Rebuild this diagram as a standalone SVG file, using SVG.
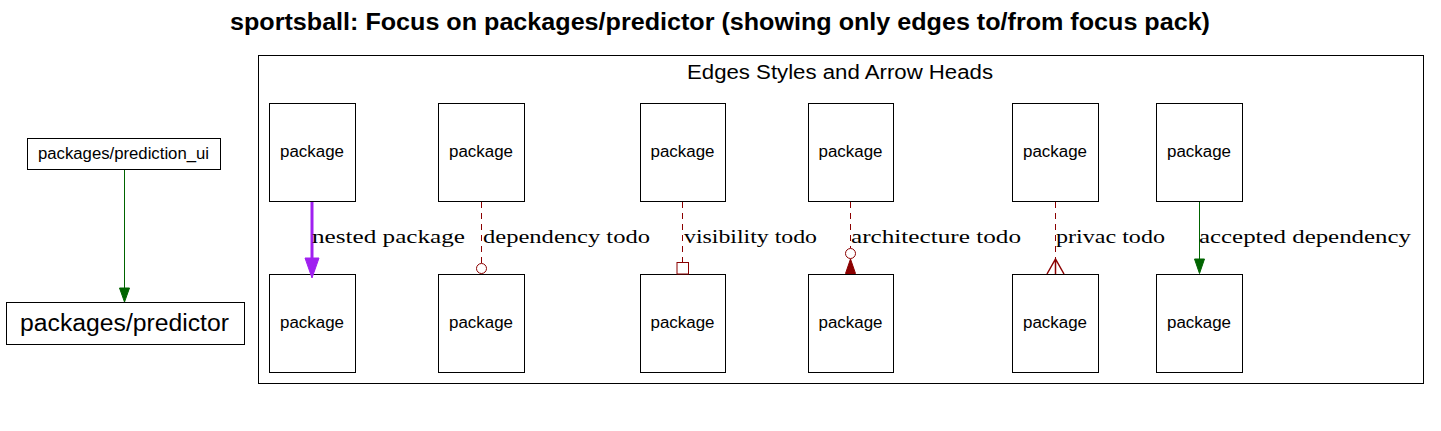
<svg xmlns="http://www.w3.org/2000/svg" width="1441" height="431" viewBox="0 0 1441 431">
<style>
.box{fill:#fff;stroke:#000;stroke-width:1}
.pk{font-family:"Liberation Sans",Arial,sans-serif;font-size:16px;text-anchor:middle}
.lbl{font-family:"Liberation Serif","Times New Roman",serif;font-size:19px}
.dash{stroke:#8b0000;stroke-width:1;stroke-dasharray:6,5;fill:none}
</style>
<rect width="1441" height="431" fill="#fff"/>
<text x="720" y="30" font-family="Liberation Sans,Arial,sans-serif" font-size="23" font-weight="bold" text-anchor="middle" textLength="980" lengthAdjust="spacingAndGlyphs">sportsball: Focus on packages/predictor (showing only edges to/from focus pack)</text>
<g id="cluster">
<rect x="258.5" y="55.5" width="1165" height="328" fill="none" stroke="#000"/>
<text x="840" y="79" font-family="Liberation Sans,Arial,sans-serif" font-size="20" text-anchor="middle" textLength="306" lengthAdjust="spacingAndGlyphs">Edges Styles and Arrow Heads</text>
</g>
<g id="prediction_ui"><rect class="box" x="27.5" y="138.5" width="193" height="31"/><text class="pk" x="123.5" y="159" textLength="171" lengthAdjust="spacingAndGlyphs">packages/prediction_ui</text></g>
<g id="predictor"><rect class="box" x="6.5" y="302.5" width="238" height="42"/><text x="124.5" y="331" font-family="Liberation Sans,Arial,sans-serif" font-size="23" text-anchor="middle" textLength="209" lengthAdjust="spacingAndGlyphs">packages/predictor</text></g>
<g id="a1"><rect class="box" x="269.5" y="103.5" width="86" height="98"/><text class="pk" x="312" y="157" textLength="64" lengthAdjust="spacingAndGlyphs">package</text></g>
<g id="a2"><rect class="box" x="438.5" y="103.5" width="86" height="98"/><text class="pk" x="481" y="157" textLength="64" lengthAdjust="spacingAndGlyphs">package</text></g>
<g id="a3"><rect class="box" x="640.5" y="103.5" width="85" height="98"/><text class="pk" x="682.5" y="157" textLength="64" lengthAdjust="spacingAndGlyphs">package</text></g>
<g id="a4"><rect class="box" x="808.5" y="103.5" width="85" height="98"/><text class="pk" x="850.5" y="157" textLength="64" lengthAdjust="spacingAndGlyphs">package</text></g>
<g id="a5"><rect class="box" x="1012.5" y="103.5" width="86" height="98"/><text class="pk" x="1055" y="157" textLength="64" lengthAdjust="spacingAndGlyphs">package</text></g>
<g id="a6"><rect class="box" x="1156.5" y="103.5" width="86" height="98"/><text class="pk" x="1199" y="157" textLength="64" lengthAdjust="spacingAndGlyphs">package</text></g>
<g id="b1"><rect class="box" x="269.5" y="274.5" width="86" height="98"/><text class="pk" x="312" y="328" textLength="64" lengthAdjust="spacingAndGlyphs">package</text></g>
<g id="b2"><rect class="box" x="438.5" y="274.5" width="86" height="98"/><text class="pk" x="481" y="328" textLength="64" lengthAdjust="spacingAndGlyphs">package</text></g>
<g id="b3"><rect class="box" x="640.5" y="274.5" width="85" height="98"/><text class="pk" x="682.5" y="328" textLength="64" lengthAdjust="spacingAndGlyphs">package</text></g>
<g id="b4"><rect class="box" x="808.5" y="274.5" width="85" height="98"/><text class="pk" x="850.5" y="328" textLength="64" lengthAdjust="spacingAndGlyphs">package</text></g>
<g id="b5"><rect class="box" x="1012.5" y="274.5" width="86" height="98"/><text class="pk" x="1055" y="328" textLength="64" lengthAdjust="spacingAndGlyphs">package</text></g>
<g id="b6"><rect class="box" x="1156.5" y="274.5" width="86" height="98"/><text class="pk" x="1199" y="328" textLength="64" lengthAdjust="spacingAndGlyphs">package</text></g>
<g id="connectors">
<line x1="124.5" y1="170" x2="124.5" y2="289" stroke="#006400"/>
<polygon points="119.5,288 129.5,288 124.5,302" fill="#006400" stroke="#006400"/>
<line x1="312" y1="202" x2="312" y2="260" stroke="#a020f0" stroke-width="3"/>
<polygon points="305,258 319,258 312,278" fill="#a020f0" stroke="#a020f0"/>
<text class="lbl" x="312" y="243" textLength="153" lengthAdjust="spacingAndGlyphs">nested package</text>
<line class="dash" x1="481.5" y1="202" x2="481.5" y2="263"/>
<circle cx="481.5" cy="268.5" r="5" fill="#fff" stroke="#8b0000"/>
<text class="lbl" x="483" y="243" textLength="167" lengthAdjust="spacingAndGlyphs">dependency todo</text>
<line class="dash" x1="682.5" y1="202" x2="682.5" y2="262"/>
<rect x="677" y="262.5" width="11.5" height="11.5" fill="#fff" stroke="#8b0000"/>
<text class="lbl" x="684" y="243" textLength="133" lengthAdjust="spacingAndGlyphs">visibility todo</text>
<line class="dash" x1="850.5" y1="202" x2="850.5" y2="248"/>
<circle cx="850.5" cy="253.5" r="5" fill="#fff" stroke="#8b0000"/>
<polygon points="850.5,259 845.5,273.5 855.5,273.5" fill="#8b0000" stroke="#8b0000"/>
<text class="lbl" x="851" y="243" textLength="170" lengthAdjust="spacingAndGlyphs">architecture todo</text>
<line class="dash" x1="1055.5" y1="202" x2="1055.5" y2="259"/>
<path d="M1047,274 L1055.5,259 L1064,274 M1055.5,259 L1055.5,274" fill="none" stroke="#8b0000" stroke-width="1.5"/>
<text class="lbl" x="1056" y="243" textLength="109" lengthAdjust="spacingAndGlyphs">privac todo</text>
<line x1="1199.5" y1="202" x2="1199.5" y2="260" stroke="#006400"/>
<polygon points="1194.5,259 1204.5,259 1199.5,273.5" fill="#006400" stroke="#006400"/>
<text class="lbl" x="1199" y="243" textLength="212" lengthAdjust="spacingAndGlyphs">accepted dependency</text>
</g>
</svg>
